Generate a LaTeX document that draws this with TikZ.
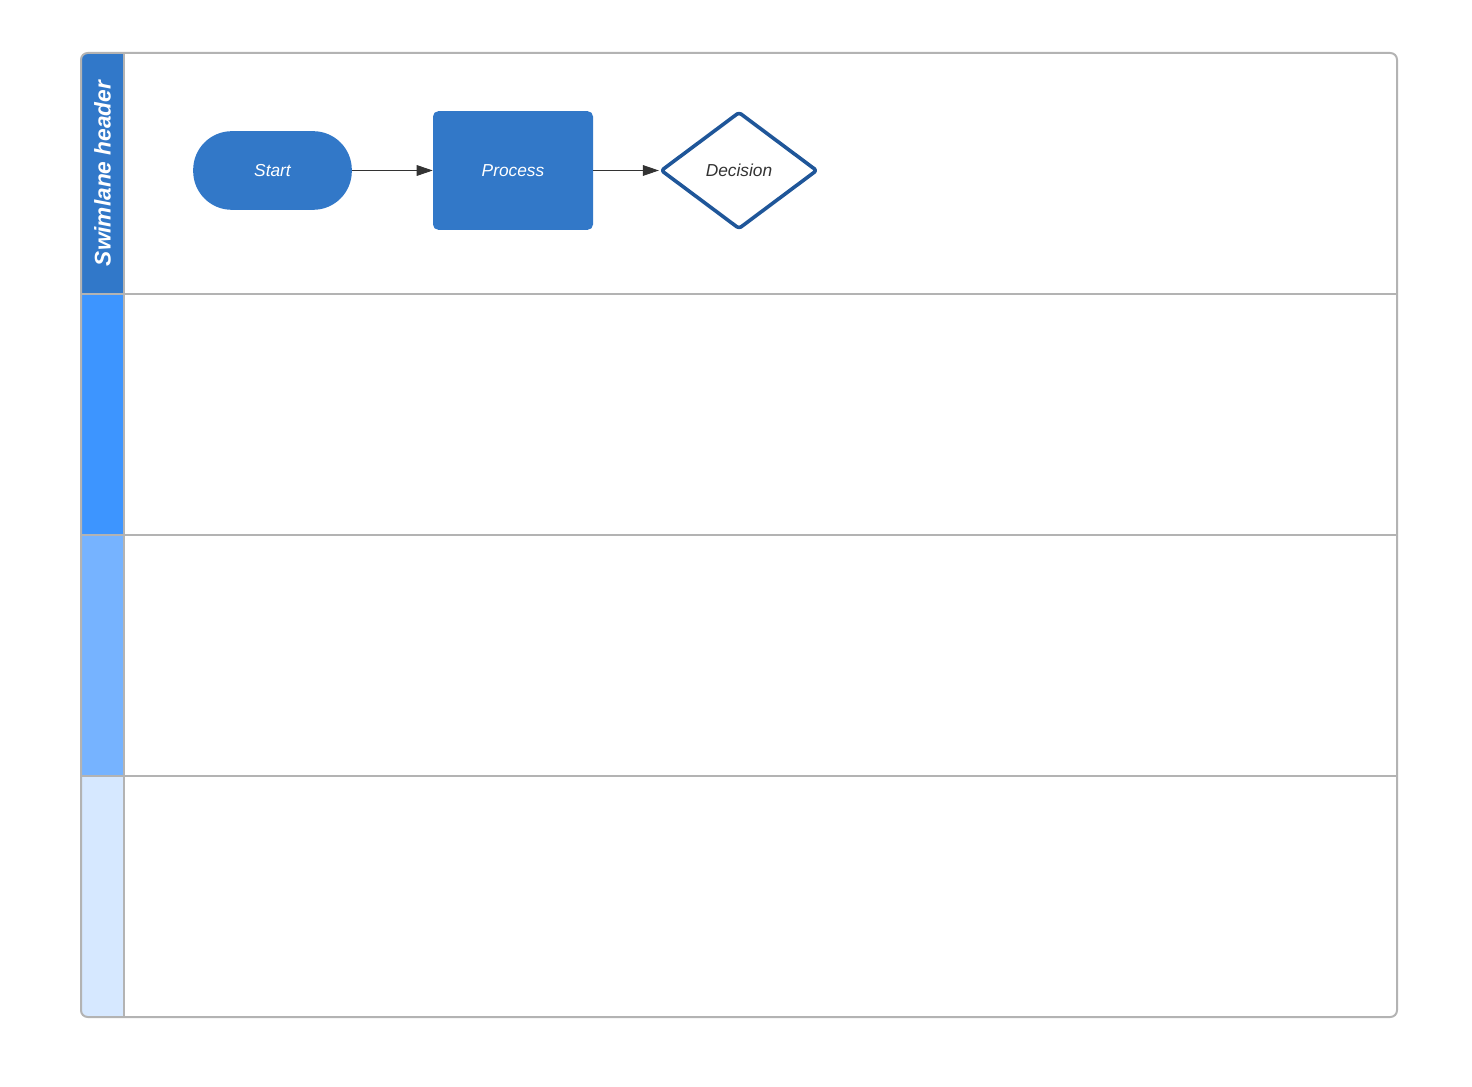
\documentclass[tikz,border=0pt]{standalone}
\usepackage{fontspec}
\setmainfont{Liberation Sans}
\usepackage{xcolor}
\usetikzlibrary{arrows.meta,shapes.geometric}

\definecolor{lanea}{HTML}{3178C9}
\definecolor{laneb}{HTML}{3D95FF}
\definecolor{lanec}{HTML}{76B3FF}
\definecolor{laned}{HTML}{D6E8FF}
\definecolor{framegray}{HTML}{B3B3B3}
\definecolor{stepblue}{HTML}{3278C8}
\definecolor{decblue}{HTML}{1F5699}
\definecolor{inkgray}{HTML}{333333}

\begin{document}
\begin{tikzpicture}[x=0.75pt,y=-0.75pt,
	frame/.style={draw=framegray,line width=1.5pt},
	terminal/.style={draw=none,fill=stepblue,rounded corners=29pt,minimum width=119pt,minimum height=59pt,text=white,font=\itshape\fontsize{13}{15}\selectfont},
	processbox/.style={draw=none,fill=stepblue,rounded corners=4pt,minimum width=120pt,minimum height=89pt,text=white,font=\itshape\fontsize{13}{15}\selectfont},
	decisionbox/.style={diamond,draw=decblue,line width=2.7pt,line join=round,rounded corners=2pt,fill=white,minimum width=117.5pt,minimum height=88pt,inner sep=0pt,text=inkgray,font=\itshape\fontsize{13}{15}\selectfont},
	flow/.style={draw=inkgray,line width=0.75pt,-{Triangle[length=12pt,width=8pt]}}]
				\useasboundingbox (0,0) rectangle (1472,1087);
				%% header cells filled with a loop, clipped to the frame
				\begin{scope}
					\clip[rounded corners=5] (81,53) rectangle (1397,1017);
					\foreach \i/\c in {0/lanea, 1/laneb, 2/lanec, 3/laned}{
						\fill[\c] (81,53+241*\i) rectangle (124,294+241*\i);
						}
				\end{scope}
				%% lane borders
				\draw[frame,rounded corners=5] (81,53) rectangle (1397,1017);
				\draw[frame] (124,53)--(124,1017);
				\foreach \i in {1, 2, 3}{
					\draw[frame] (81,53+241*\i)--(1397,53+241*\i);
					}
				\node[rotate=90,text=white,font=\bfseries\itshape\fontsize{17}{20}\selectfont] (header) at (102.5,173.5) {Swimlane header};

				%flow shapes placed by hand
				\node[terminal] (start) at (272.5,170.5) {Start};
				\node[processbox] (process) at (513,170.5) {Process};
				\node[decisionbox] (decision) at (739,170.5) {Decision};

				\draw[flow] (start)--(process);
				\draw[flow] (process)--(decision);
				\end{tikzpicture}
\end{document}
